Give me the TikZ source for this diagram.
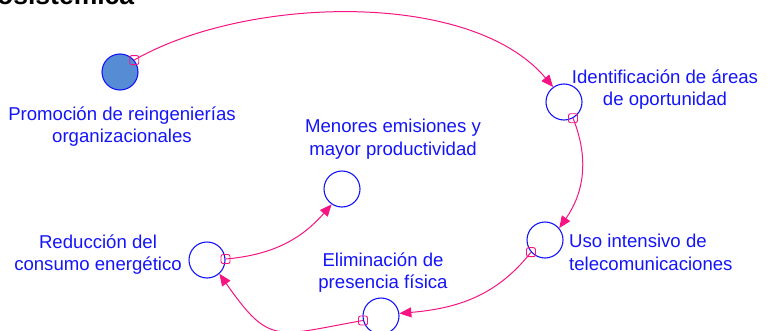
\documentclass[tikz,border=0pt]{standalone}
\usepackage{fontspec}
\setmainfont{Liberation Sans}
\usetikzlibrary{arrows.meta}
\definecolor{vblue}{RGB}{20,20,250}
\definecolor{vpink}{RGB}{245,20,130}
\definecolor{vfill}{RGB}{86,140,212}
\begin{document}
\begin{tikzpicture}[x=1pt, y=1pt, font=\fontsize{18.6}{22.5}\selectfont,
  varnode/.style={circle, draw=vblue, line width=1.1pt, minimum size=36pt, inner sep=0pt},
  lbl/.style={text=vblue, align=center, inner sep=0pt, anchor=north},
  link/.style={draw=vpink, line width=1pt, -{Triangle[length=12pt,width=10pt]}},
  tailmark/.style={draw=vpink, line width=0.9pt, rounded corners=2pt, minimum size=9pt, inner sep=0pt}]
  \clip (0,0) rectangle (767,330);
  \node[anchor=base west, inner sep=0pt, font=\fontsize{26.5}{30}\selectfont\bfseries] (title) at (-3,325.5) {osistemica};
  % variables
  \node[varnode, fill=vfill] (promo) at (120,258) {};
  \node[varnode] (areas) at (564,228) {};
  \node[varnode] (telec) at (545,90) {};
  \node[varnode] (presen) at (381,14) {};
  \node[varnode] (energ) at (207,70) {};
  \node[varnode] (emis) at (342,141) {};
  % labels
  \node[lbl] (promolbl) at (122,223.7) {Promoción de reingenierías\\organizacionales};
  \node[lbl] (areaslbl) at (665,260.7) {Identificación de áreas\\de oportunidad};
  \node[lbl, anchor=north west, align=left] (teleclbl) at (569,95.7) {Uso intensivo de\\telecomunicaciones};
  \node[lbl] (presenlbl) at (383,77.7) {Eliminación de\\presencia física};
  \node[lbl] (energlbl) at (98,95.7) {Reducción del\\consumo energético};
  \node[lbl] (emislbl) at (393,210.7) {Menores emisiones y\\mayor productividad};
  % links
  \draw[link] (promo.40) node[tailmark] {} to[out=30, in=130, looseness=0.78] (areas.126);
  \draw[link] (areas.299) node[tailmark] {} to[out=-68, in=55] (telec.40);
  \draw[link] (telec.221) node[tailmark] {} to[out=232, in=5] (presen.8);
  \draw[link] (presen.194) node[tailmark] {} to[out=190, in=-55, looseness=1.5] (energ.312);
  \draw[link] (energ.3) node[tailmark] {} to[out=5, in=229] (emis.236);
\end{tikzpicture}
\end{document}
